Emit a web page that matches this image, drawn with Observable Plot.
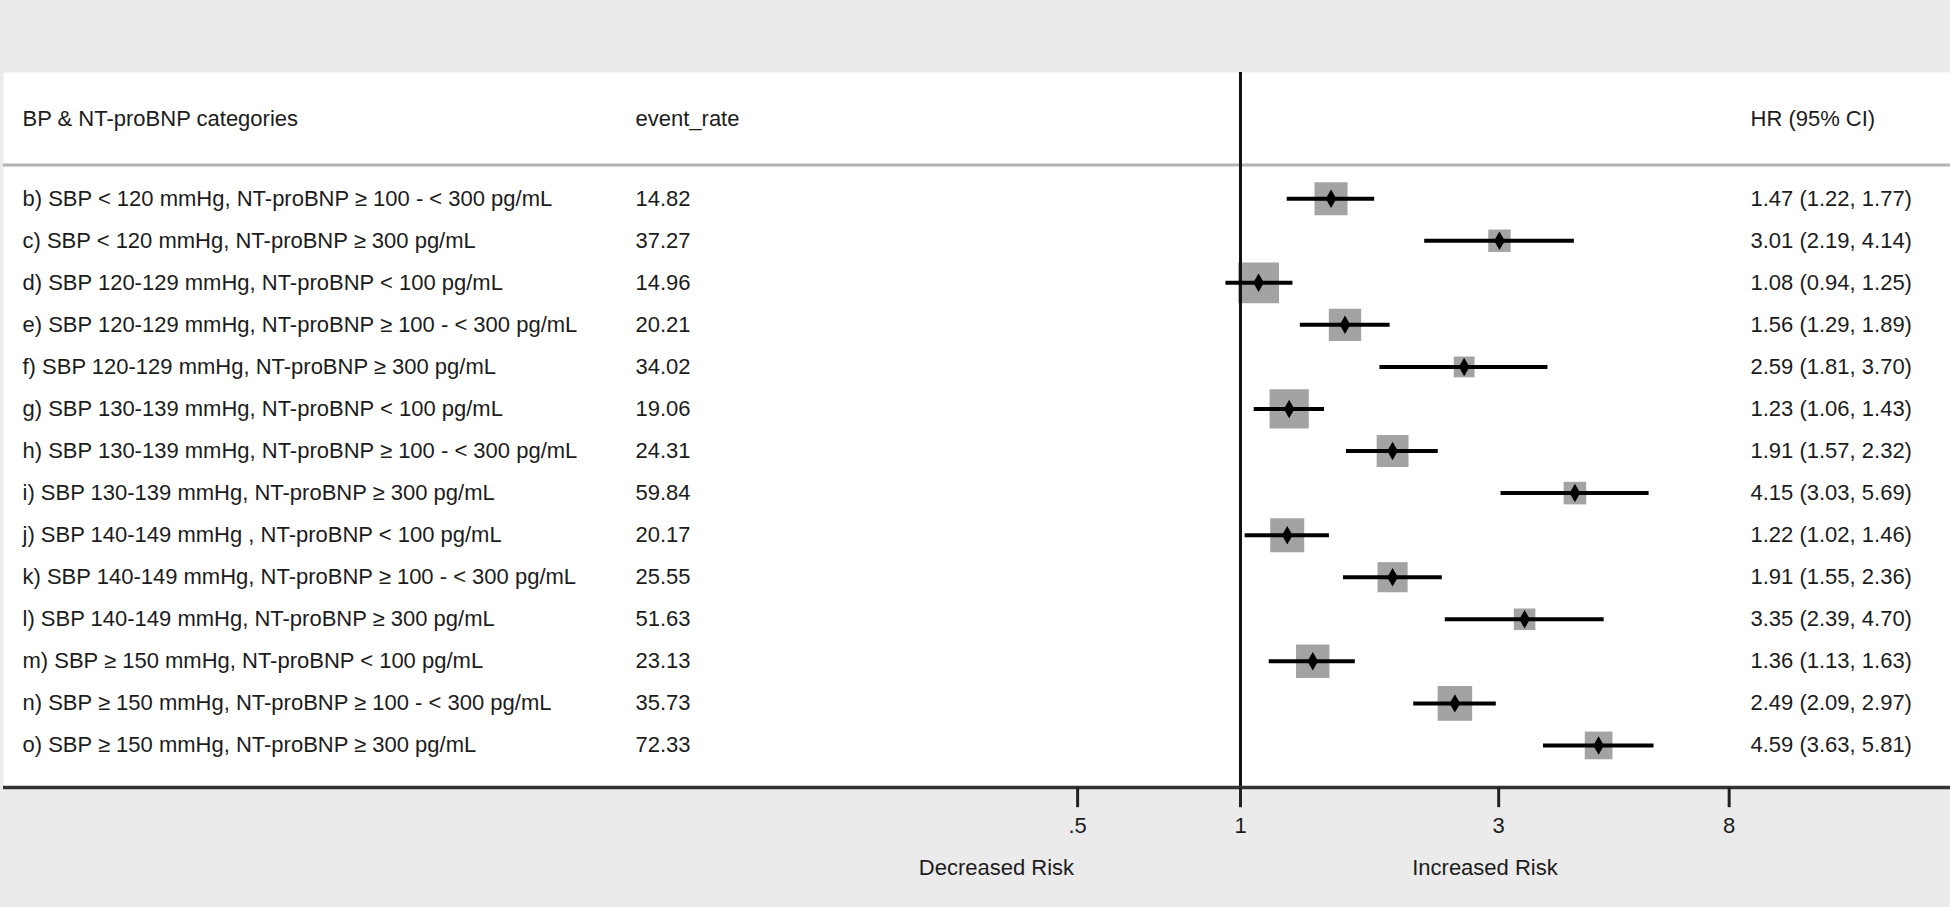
<!DOCTYPE html>
<html>
<head>
<meta charset="utf-8">
<script src="https://cdn.jsdelivr.net/npm/d3@7"></script>
<script src="https://cdn.jsdelivr.net/npm/@observablehq/plot@0.6"></script>
<style>
  html, body { margin: 0; padding: 0; background: #ebebeb; }
  #chart svg { display: block; }
</style>
</head>
<body>
<div id="chart"></div>
<script>
// ---- Data ----
const categories = [
  "b) SBP < 120 mmHg, NT-proBNP ≥ 100 - < 300 pg/mL",
  "c) SBP < 120 mmHg, NT-proBNP ≥ 300 pg/mL",
  "d) SBP 120-129 mmHg, NT-proBNP < 100 pg/mL",
  "e) SBP 120-129 mmHg, NT-proBNP ≥ 100 - < 300 pg/mL",
  "f) SBP 120-129 mmHg, NT-proBNP ≥ 300 pg/mL",
  "g) SBP 130-139 mmHg, NT-proBNP < 100 pg/mL",
  "h) SBP 130-139 mmHg, NT-proBNP ≥ 100 - < 300 pg/mL",
  "i) SBP 130-139 mmHg, NT-proBNP ≥ 300 pg/mL",
  "j) SBP 140-149 mmHg , NT-proBNP < 100 pg/mL",
  "k) SBP 140-149 mmHg, NT-proBNP ≥ 100 - < 300 pg/mL",
  "l) SBP 140-149 mmHg, NT-proBNP ≥ 300 pg/mL",
  "m) SBP ≥ 150 mmHg, NT-proBNP < 100 pg/mL",
  "n) SBP ≥ 150 mmHg, NT-proBNP ≥ 100 - < 300 pg/mL",
  "o) SBP ≥ 150 mmHg, NT-proBNP ≥ 300 pg/mL"
];
const eventRate = [14.82, 37.27, 14.96, 20.21, 34.02, 19.06, 24.31, 59.84, 20.17, 25.55, 51.63, 23.13, 35.73, 72.33];
const hr        = [1.47, 3.01, 1.08, 1.56, 2.59, 1.23, 1.91, 4.15, 1.22, 1.91, 3.35, 1.36, 2.49, 4.59];
const ciLower   = [1.22, 2.19, 0.94, 1.29, 1.81, 1.06, 1.57, 3.03, 1.02, 1.55, 2.39, 1.13, 2.09, 3.63];
const ciUpper   = [1.77, 4.14, 1.25, 1.89, 3.70, 1.43, 2.32, 5.69, 1.46, 2.36, 4.70, 1.63, 2.97, 5.81];

const headers = ["BP & NT-proBNP categories", "event_rate", "HR (95% CI)"];
const xTicks = [0.5, 1, 3, 8];
const xTickLabels = [".5", "1", "3", "8"];
const riskLabels = [
  {label: "Decreased Risk", at: 0.354},
  {label: "Increased Risk", at: 2.83}
];

// ---- Tables built from the arrays ----
const rows = categories.map((c, i) => ({
  idx: i,
  label: c,
  rate: eventRate[i].toFixed(2),
  hr: hr[i],
  lo: ciLower[i],
  hi: ciUpper[i],
  hrText: `${hr[i].toFixed(2)} (${ciLower[i].toFixed(2)}, ${ciUpper[i].toFixed(2)})`,
  // square side grows with precision (inverse of log-CI width), as in metan-style plots
  side: 7.5 + 9.5 / Math.log(ciUpper[i] / ciLower[i])
}));
const ticks = xTicks.map((t, i) => ({value: t, label: xTickLabels[i]}));

const FONT = 22;
const TXT = "#1c1c1c";
const colLeft = 19, colRate = 632, colHR = 1747;
const headerRow = -1.9, sepRow = -0.8, axisRow = 14, tickEnd = 14.48;

// log scale: x(1) = 1240px, 235px per natural-log unit
const xPx = v => 1240 + 235 * Math.log(v);
const xDomain = [0.4, 10];

const chart = Plot.plot({
  width: 1950,
  height: 907,
  marginTop: 72,
  marginBottom: 120,
  marginLeft: 3,
  marginRight: 0,
  style: {background: "#ebebeb", fontFamily: "'Liberation Sans', Arial, Helvetica, sans-serif", color: TXT, overflow: "visible"},
  x: {type: "log", domain: xDomain, range: xDomain.map(xPx), axis: null},
  y: {domain: [-3, 14], range: [72, 787], axis: null},
  r: {type: "identity"},
  marks: [
    Plot.frame({fill: "white", stroke: null}),
    // header separator
    Plot.ruleY([sepRow], {stroke: "#b3b3b3", strokeWidth: 3}),
    // header texts
    Plot.text([headers[0]], {y: () => headerRow, text: d => d, frameAnchor: "left", dx: colLeft, textAnchor: "start", fontSize: FONT, fill: TXT}),
    Plot.text([headers[1]], {y: () => headerRow, text: d => d, frameAnchor: "left", dx: colRate, textAnchor: "start", fontSize: FONT, fill: TXT}),
    Plot.text([headers[2]], {y: () => headerRow, text: d => d, frameAnchor: "left", dx: colHR, textAnchor: "start", fontSize: FONT, fill: TXT}),
    // row texts
    Plot.text(rows, {y: "idx", text: "label", frameAnchor: "left", dx: colLeft, textAnchor: "start", fontSize: FONT, fill: TXT}),
    Plot.text(rows, {y: "idx", text: "rate", frameAnchor: "left", dx: colRate, textAnchor: "start", fontSize: FONT, fill: TXT}),
    Plot.text(rows, {y: "idx", text: "hrText", frameAnchor: "left", dx: colHR, textAnchor: "start", fontSize: FONT, fill: TXT}),
    // weight squares
    Plot.dot(rows, {x: "hr", y: "idx", symbol: "square", r: d => d.side / Math.sqrt(Math.PI), fill: "#a3a3a3", stroke: null}),
    // null line
    Plot.ruleX([1], {stroke: "#111", strokeWidth: 3}),
    // CIs
    Plot.ruleY(rows, {y: "idx", x1: "lo", x2: "hi", stroke: "#000", strokeWidth: 4}),
    // point estimates
    Plot.dot(rows, {x: "hr", y: "idx", symbol: "diamond", r: 5.6, fill: "#000", stroke: null}),
    // x axis: line, ticks, tick labels
    Plot.ruleY([axisRow], {stroke: "#333", strokeWidth: 3.5}),
    Plot.ruleX(ticks, {x: "value", y1: axisRow, y2: tickEnd, stroke: "#222", strokeWidth: 3, clip: false}),
    Plot.text(ticks, {x: "value", text: "label", frameAnchor: "bottom", dy: 45, fontSize: FONT, fill: TXT}),
    Plot.text(riskLabels, {x: "at", text: "label", frameAnchor: "bottom", dy: 87, fontSize: FONT, fill: TXT})
  ]
});

document.getElementById("chart").append(chart);
</script>
</body>
</html>
